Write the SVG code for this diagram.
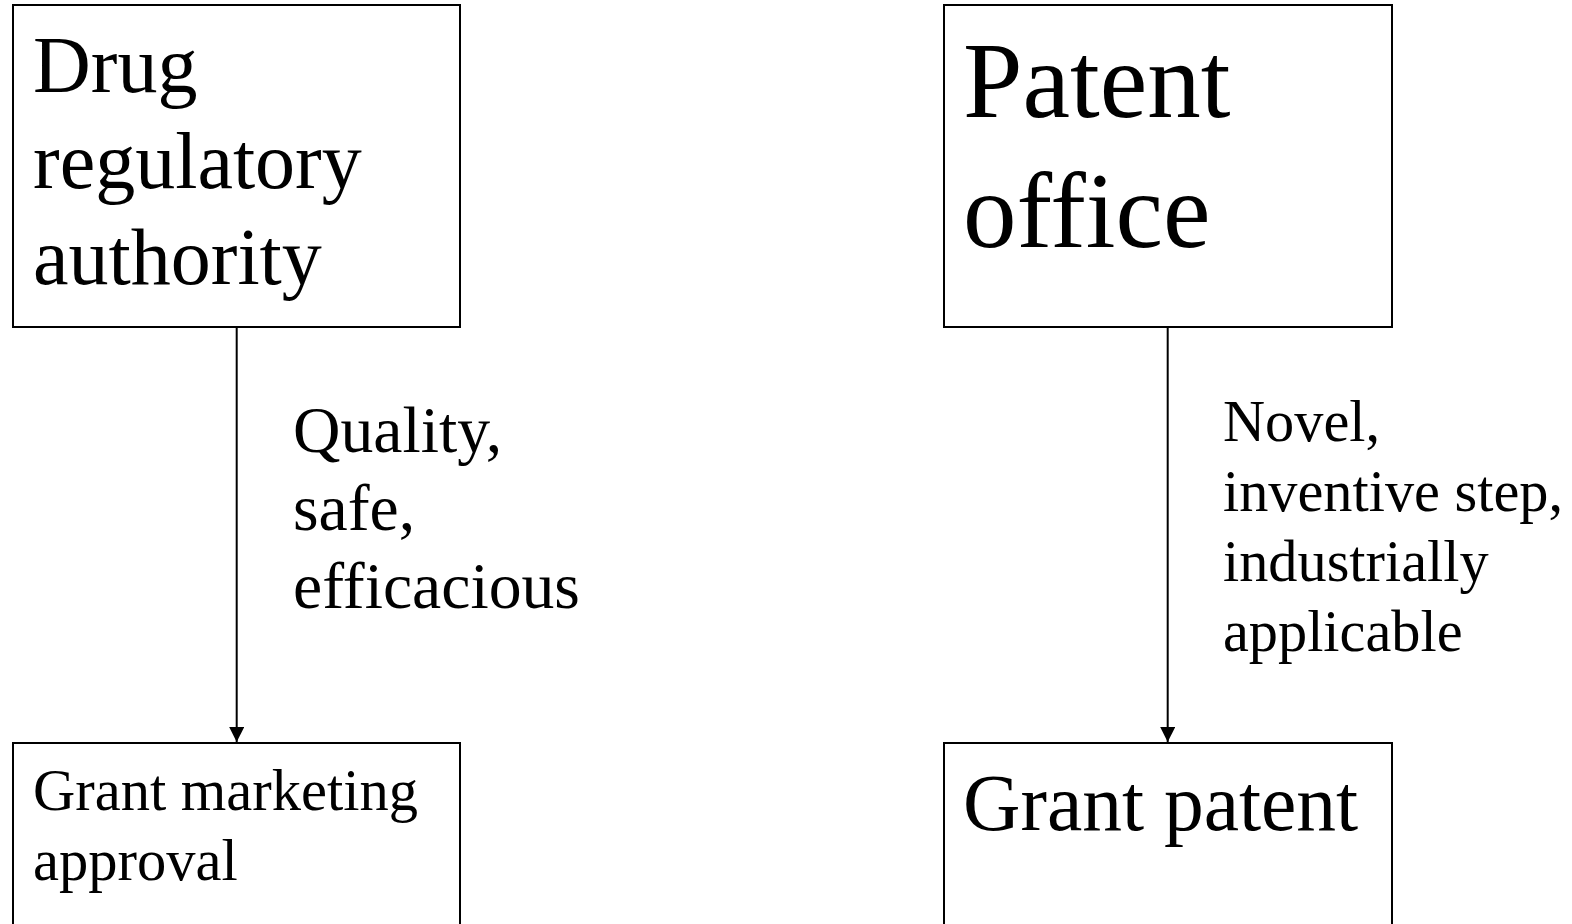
<svg xmlns="http://www.w3.org/2000/svg" width="1572" height="924" viewBox="0 0 1572 924">
<style>
.box{fill:#fff;stroke:#000;stroke-width:2}
text{font-family:"Liberation Serif","Times New Roman",serif;fill:#000}
.edge{stroke:#000;stroke-width:2;fill:none}
</style>
<defs>
<marker id="arr" viewBox="0 0 10 10" refX="10" refY="5" markerWidth="15" markerHeight="15" markerUnits="userSpaceOnUse" orient="auto" preserveAspectRatio="none">
<path d="M0,0 L10,5 L0,10 Z" fill="#000"/>
</marker>
</defs>
<rect width="1572" height="924" fill="#fff"/>
<g id="drug-authority">
<rect class="box" x="13" y="5" width="447" height="322"/>
<text x="33" y="92" font-size="80">Drug</text>
<text x="33" y="188" font-size="80">regulatory</text>
<text x="33" y="284" font-size="80">authority</text>
</g>
<g id="patent-office">
<rect class="box" x="944" y="5" width="448" height="322"/>
<text x="963" y="117" font-size="107">Patent</text>
<text x="963" y="247" font-size="107">office</text>
</g>
<g id="marketing-approval">
<rect class="box" x="13" y="743" width="447" height="200"/>
<text x="33" y="810" font-size="58.5">Grant marketing</text>
<text x="33" y="880" font-size="58.5">approval</text>
</g>
<g id="grant-patent">
<rect class="box" x="944" y="743" width="448" height="200"/>
<text x="963" y="830" font-size="79.5">Grant patent</text>
</g>
<g id="connectors">
<line class="edge" x1="236.7" y1="328" x2="236.7" y2="742" marker-end="url(#arr)"/>
<line class="edge" x1="1167.7" y1="328" x2="1167.7" y2="742" marker-end="url(#arr)"/>
<g id="label-left" font-size="65.7">
<text x="293" y="452">Quality,</text>
<text x="293" y="530">safe,</text>
<text x="293" y="608">efficacious</text>
</g>
<g id="label-right" font-size="58.3">
<text x="1223" y="441">Novel,</text>
<text x="1223" y="511">inventive step,</text>
<text x="1223" y="581">industrially</text>
<text x="1223" y="651">applicable</text>
</g>
</g>
</svg>
